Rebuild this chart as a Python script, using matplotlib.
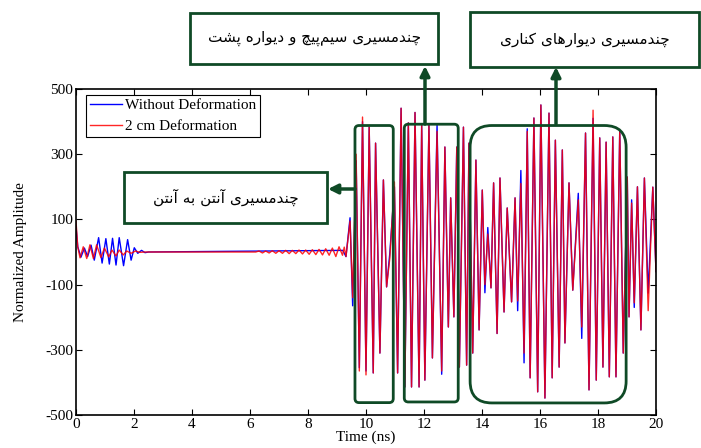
import numpy as np
import matplotlib
matplotlib.use("Agg")
from matplotlib import pyplot as plt
from matplotlib.patches import FancyBboxPatch, Rectangle

plt.rcParams['font.family'] = ['Liberation Serif', 'DejaVu Sans']
plt.rcParams['axes.unicode_minus'] = False

# ---- data (extrema of the traces) ----
t_blue = [0, 0.06, 0.17, 0.29, 0.40, 0.52, 0.63, 0.78, 0.90, 1.03, 1.15, 1.26, 1.38, 1.49,
          1.64, 1.78, 1.90, 2.01, 2.13, 2.26, 2.38, 2.5, 9.2]
v_blue = [80, 16, -16, 12, -14, 21, -25, 44, -34, 41, -37, 42, -40, 44,
          -42, 38, -25, 13, -4, 5, -2, 0, 5]

t_red = [0, 0.06, 0.14, 0.25, 0.37, 0.48, 0.60, 0.71, 0.86, 0.98, 1.13, 1.24, 1.38, 1.49,
         1.63, 1.75, 1.90, 2.05, 2.2, 2.4, 6.2, 6.31, 6.43, 6.54, 6.66, 6.77, 6.89, 7.0,
         7.12, 7.23, 7.35, 7.46, 7.58, 7.69, 7.81, 7.92, 8.04, 8.15, 8.27, 8.38, 8.5,
         8.61, 8.73, 8.84, 8.96, 9.07, 9.19, 9.25]
v_red = [95, 16, -18, 16, -20, 22, -20, 22, -17, 12, -15, 6, -12, 6,
         -9, 3, -4, 3, -1, 0, 0, 3, -3, 3, -3, 4, -4, 4,
         -4, 5, -5, 5, -5, 6, -6, 6, -7, 7, -8, 8, -9,
         10, -10, 12, -14, 16, -10, 15]

# strong multipath part (both traces share peak times)
t_main = [9.31, 9.45, 9.54, 9.66, 9.77, 9.88, 10.0, 10.11, 10.25, 10.33, 10.48, 10.6,
          10.71, 10.82, 10.98, 11.09, 11.21, 11.34, 11.46, 11.57, 11.69, 11.83, 11.92,
          12.03, 12.17, 12.29, 12.45, 12.61, 12.72, 12.84, 12.92, 13.03, 13.13, 13.22,
          13.36, 13.47, 13.55, 13.68, 13.79, 13.9, 14.01, 14.1, 14.2, 14.31, 14.4, 14.52,
          14.62, 14.76, 14.87, 15.02, 15.14, 15.23, 15.34, 15.45, 15.56, 15.66, 15.79,
          15.92, 16.03, 16.17, 16.31, 16.42, 16.53, 16.66, 16.77, 16.86, 17.0, 17.13,
          17.32, 17.44, 17.57, 17.69, 17.83, 17.94, 18.06, 18.17, 18.28, 18.39, 18.51,
          18.62, 18.75, 18.87, 19.01, 19.07, 19.16, 19.25, 19.36, 19.48, 19.6, 19.73,
          19.89, 20.0]
v_main_blue = [-14, 105, -165, 280, -355, 400, -365, 383, -371, 334, -310, 221,
               -107, -5, 200, -371, 441, -414, 396, -414, 428, -414, 390,
               -393, 390, -325, 390, -375, 322, -230, 166, -199, 322, -353,
               383, -347, 334, -310, 282, -239, 190, -125, 75, -110, 212, -250,
               227, -184, 135, -153, 166, -180, 250, -340, 378, -386, 411,
               -429, 451, -448, 426, -386, 343, -353, 313, -279, 212, -117,
               180, -265, 365, -423, 410, -393, 350, -353, 337, -383, 353,
               -383, 374, -310, 230, -199, 160, -170, 200, -239, 227, -126,
               199, -60]
v_main_red = [-14, 95, -140, 300, -365, 414, -377, 383, -371, 334, -310, 221,
              -107, -20, 215, -371, 441, -414, 396, -414, 428, -414, 390,
              -393, 390, -325, 370, -365, 322, -230, 166, -199, 322, -353,
              383, -347, 334, -310, 282, -239, 190, -100, 55, -110, 212, -250,
              227, -184, 135, -153, 166, -150, 210, -310, 370, -386, 411,
              -429, 451, -448, 426, -386, 343, -353, 313, -279, 212, -117,
              160, -230, 365, -423, 435, -393, 350, -353, 337, -383, 353,
              -383, 374, -310, 230, -199, 150, -156, 200, -239, 227, -180,
              199, -60]

y_ticks = [500, 300, 100, -100, -300, -500]
x_ticks = [0, 2, 4, 6, 8, 10, 12, 14, 16, 18, 20]
legend_labels = ['Without Deformation', '2 cm Deformation']

# annotation texts (Persian)
label_antenna = 'چندمسیری آنتن به آنتن'
label_coil = 'چندمسیری سیم\u200cپیچ و دیواره پشت'
label_side = 'چندمسیری دیوارهای کناری'

# highlighted time windows: (t0, t1, v0, v1, corner radius in ns)
windows = [(9.62, 10.94, -462, 388, 0.14),
           (11.32, 13.18, -460, 392, 0.14),
           (13.59, 18.97, -463, 388, 0.75)]

# ---- Persian shaping (presentation forms, visual order) ----
FORMS = {
    '\u0627': ('\ufe8d', '\ufe8e', None, None),
    '\u0622': ('\ufe81', '\ufe82', None, None),
    '\u0628': ('\ufe8f', '\ufe90', '\ufe91', '\ufe92'),
    '\u067e': ('\ufb56', '\ufb57', '\ufb58', '\ufb59'),
    '\u062a': ('\ufe95', '\ufe96', '\ufe97', '\ufe98'),
    '\u062c': ('\ufe9d', '\ufe9e', '\ufe9f', '\ufea0'),
    '\u0686': ('\ufb7a', '\ufb7b', '\ufb7c', '\ufb7d'),
    '\u062f': ('\ufea9', '\ufeaa', None, None),
    '\u0631': ('\ufead', '\ufeae', None, None),
    '\u0633': ('\ufeb1', '\ufeb2', '\ufeb3', '\ufeb4'),
    '\u0634': ('\ufeb5', '\ufeb6', '\ufeb7', '\ufeb8'),
    '\u06a9': ('\ufb8e', '\ufb8f', '\ufb90', '\ufb91'),
    '\u0644': ('\ufedd', '\ufede', '\ufedf', '\ufee0'),
    '\u0645': ('\ufee1', '\ufee2', '\ufee3', '\ufee4'),
    '\u0646': ('\ufee5', '\ufee6', '\ufee7', '\ufee8'),
    '\u0647': ('\ufee9', '\ufeea', '\ufeeb', '\ufeec'),
    '\u0648': ('\ufeed', '\ufeee', None, None),
    '\u06cc': ('\ufbfc', '\ufbfd', '\ufbfe', '\ufbff'),
}


def shape(text):
    out = []
    for i, c in enumerate(text):
        if c == '\u200c':
            continue
        if c not in FORMS:
            out.append(c)
            continue
        prev = text[i - 1] if i > 0 else ''
        nxt = text[i + 1] if i + 1 < len(text) else ''
        join_prev = prev in FORMS and FORMS[prev][2] is not None
        join_next = nxt in FORMS and FORMS[c][2] is not None
        iso, fin, ini, med = FORMS[c]
        if join_prev and join_next:
            out.append(med)
        elif join_prev:
            out.append(fin)
        elif join_next:
            out.append(ini)
        else:
            out.append(iso)
    return ''.join(reversed(out))


W, H = 701, 448
green = '#0f4a26'
fig = plt.figure(figsize=(W / 100, H / 100), dpi=100)
ax = fig.add_axes([76 / W, 33 / H, 580 / W, 326 / H])


def fx(px):
    return px / W


def fy(py):
    return 1 - py / H


tb = np.array(t_blue + t_main)
vb = np.array(v_blue + v_main_blue)
tr = np.array(t_red + t_main)
vr = np.array(v_red + v_main_red)

ax.plot(tb, vb, color='#0000ff', lw=1.0, label=legend_labels[0])
ax.plot(tr, vr, color='#ff0000', lw=1.0, alpha=0.85, label=legend_labels[1])

ax.set_xlim(0, 20)
ax.set_ylim(-500, 500)
ax.set_xticks(x_ticks)
ax.set_yticks(y_ticks)
ax.tick_params(direction='in', top=True, right=True, length=4, labelsize=11, pad=2)
for s in ax.spines.values():
    s.set_linewidth(1.2)
ax.set_xlabel('Time (ns)', fontsize=11, labelpad=0)
ax.set_ylabel('Normalized Amplitude', fontsize=11, labelpad=13)

leg = ax.legend(loc='upper left', bbox_to_anchor=(0.017, 0.982), borderaxespad=0,
                fancybox=False, edgecolor='black', framealpha=1, fontsize=11,
                handlelength=2.1, handletextpad=0.2, borderpad=0.25, labelspacing=0.45)
leg.get_frame().set_linewidth(0.8)

aspect = (1000 / 326) * (580 / 20)
for t0, t1, v0, v1, r in windows:
    p = FancyBboxPatch((t0, v0), t1 - t0, v1 - v0,
                       boxstyle='round,pad=0,rounding_size=%g' % r,
                       mutation_aspect=aspect, fill=False, ec=green, lw=2, zorder=5)
    ax.add_patch(p)

# text boxes
boxes = [(124, 327, 172, 223, label_antenna),
         (190, 438, 13, 64, label_coil),
         (470, 699, 12, 67, label_side)]
for x0, x1, y0, y1, txt in boxes:
    fig.add_artist(Rectangle((fx(x0), fy(y1)), fx(x1 - x0), (y1 - y0) / H,
                             transform=fig.transFigure, fc='white', ec=green,
                             lw=2, zorder=6))
    fig.text(fx((x0 + x1) / 2), fy((y0 + y1) / 2), shape(txt), ha='center',
             va='center', fontsize=11, family=['DejaVu Sans'], zorder=7)

arrows = [((355, 189), (328, 189)), ((425, 124), (425, 66)), ((556, 124), (556, 67))]
for (x0, y0), (x1, y1) in arrows:
    ax.annotate('', xy=(x1, H - y1), xytext=(x0, H - y0), xycoords='figure pixels',
                textcoords='figure pixels', annotation_clip=False,
                arrowprops=dict(arrowstyle='-|>', color=green, lw=2.5,
                                mutation_scale=14, shrinkA=0, shrinkB=0), zorder=8)

fig.savefig('out.png', dpi=100)
